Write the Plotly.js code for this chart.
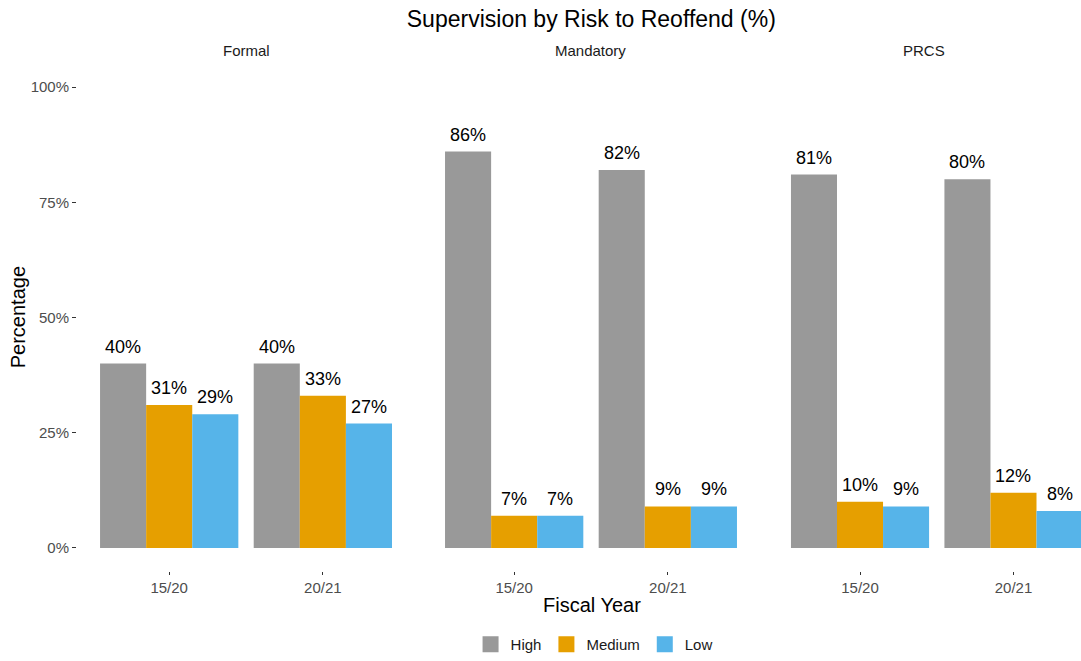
<!DOCTYPE html>
<html>
<head>
<meta charset="utf-8">
<script src="https://cdn.plot.ly/plotly-3.0.1.min.js"></script>
<style>html,body{margin:0;padding:0;background:#fff;}#chart{width:1081px;height:661px;}</style>
</head>
<body>
<div id="chart"></div>
<script>
// ---- data ----
const panels = ['Formal', 'Mandatory', 'PRCS'];
const years = ['15/20', '20/21'];
const riskLevels = ['High', 'Medium', 'Low'];
const riskColors = ['#999999', '#E69F00', '#56B4E9'];

const formalHigh = [40, 40];
const formalMedium = [31, 33];
const formalLow = [29, 27];

const mandatoryHigh = [86, 82];
const mandatoryMedium = [7, 9];
const mandatoryLow = [7, 9];

const prcsHigh = [81, 80];
const prcsMedium = [10, 12];
const prcsLow = [9, 8];

const yTickVals = [0, 25, 50, 75, 100];
const yTickText = ['0%', '25%', '50%', '75%', '100%'];

// ---- build ----
const panelData = [
  [formalHigh, formalMedium, formalLow],
  [mandatoryHigh, mandatoryMedium, mandatoryLow],
  [prcsHigh, prcsMedium, prcsLow]
];
const FONT = 'Liberation Sans, Arial, sans-serif';
const axisSuffix = ['', '2', '3'];
const traces = [];
const annotations = [];
const nLevels = riskLevels.length;
const groupWidth = 0.9;
const barW = groupWidth / nLevels;

panelData.forEach((series, p) => {
  series.forEach((vals, k) => {
    traces.push({
      type: 'bar',
      x: years,
      y: vals,
      name: riskLevels[k],
      marker: {color: riskColors[k], line: {width: 0}},
      xaxis: 'x' + axisSuffix[p],
      yaxis: 'y' + axisSuffix[p],
      showlegend: false,
      legendgroup: riskLevels[k],
      hoverinfo: 'x+y+name'
    });
    vals.forEach((v, i) => {
      annotations.push({
        xref: 'x' + axisSuffix[p], yref: 'y' + axisSuffix[p],
        x: i - groupWidth / 2 + barW * (k + 0.5), y: v,
        text: v + '%', showarrow: false,
        yanchor: 'bottom', yshift: 5,
        font: {family: FONT, size: 18, color: '#000'}
      });
    });
  });
  annotations.push({
    xref: 'x' + axisSuffix[p] + ' domain', yref: 'paper',
    x: 0.5, y: 1.027, yanchor: 'middle', showarrow: false,
    text: panels[p], font: {family: FONT, size: 15, color: '#1a1a1a'}
  });
});

// legend keys (square swatches, legend only)
riskLevels.forEach((lvl, k) => {
  traces.push({
    type: 'scatter', mode: 'markers', x: [null], y: [null],
    name: lvl, legendgroup: lvl, showlegend: true,
    marker: {symbol: 'square', size: 16, color: riskColors[k], line: {width: 0}},
    xaxis: 'x', yaxis: 'y', hoverinfo: 'skip'
  });
});

annotations.push({
  xref: 'paper', yref: 'paper', x: 0.5125, y: -0.067, yanchor: 'middle',
  showarrow: false, text: 'Fiscal Year',
  font: {family: FONT, size: 20, color: '#000'}
});
annotations.push({
  xref: 'paper', yref: 'paper', x: -0.059, y: 0.5, xanchor: 'center', yanchor: 'middle',
  showarrow: false, text: 'Percentage', textangle: -90,
  font: {family: FONT, size: 20, color: '#000'}
});

const xBase = {
  type: 'category', showgrid: false, zeroline: false, showline: false,
  ticks: 'outside', ticklen: 3, tickcolor: '#333', tickwidth: 1,
  tickfont: {family: FONT, size: 15, color: '#4D4D4D'}, fixedrange: true
};
const yBase = {
  range: [-5, 105], showgrid: false, zeroline: false, showline: false,
  tickvals: yTickVals, ticktext: yTickText, fixedrange: true
};

const layout = {
  width: 1081, height: 661,
  margin: {l: 77, r: 0, t: 64, b: 87},
  paper_bgcolor: '#fff', plot_bgcolor: '#fff',
  font: {family: FONT},
  barmode: 'group', bargap: 1 - groupWidth, bargroupgap: 0,
  title: {
    text: 'Supervision by Risk to Reoffend (%)',
    x: 0.547, xref: 'container', xanchor: 'center',
    y: 0.972, yref: 'container', yanchor: 'middle',
    font: {family: FONT, size: 23, color: '#000'}
  },
  xaxis: Object.assign({}, xBase, {domain: [0, 0.3367], range: [-0.6, 1.6]}),
  xaxis2: Object.assign({}, xBase, {domain: [0.3436, 0.6803], range: [-0.6, 1.6]}),
  xaxis3: Object.assign({}, xBase, {domain: [0.6882, 1], range: [-0.6, 1.44]}),
  yaxis: Object.assign({}, yBase, {
    anchor: 'x', ticks: 'outside', ticklen: 4, tickcolor: '#333', tickwidth: 1,
    tickfont: {family: FONT, size: 15, color: '#4D4D4D'}
  }),
  yaxis2: Object.assign({}, yBase, {anchor: 'x2', matches: 'y', showticklabels: false, ticks: ''}),
  yaxis3: Object.assign({}, yBase, {anchor: 'x3', matches: 'y', showticklabels: false, ticks: ''}),
  legend: {
    orientation: 'h', x: 0.515, xanchor: 'center', y: -0.145, yanchor: 'middle',
    font: {family: FONT, size: 15, color: '#1a1a1a'}, traceorder: 'normal',
    itemwidth: 30, itemsizing: 'trace'
  },
  annotations: annotations,
  showlegend: true
};

Plotly.newPlot('chart', traces, layout, {displayModeBar: false, staticPlot: true});
</script>
</body>
</html>
